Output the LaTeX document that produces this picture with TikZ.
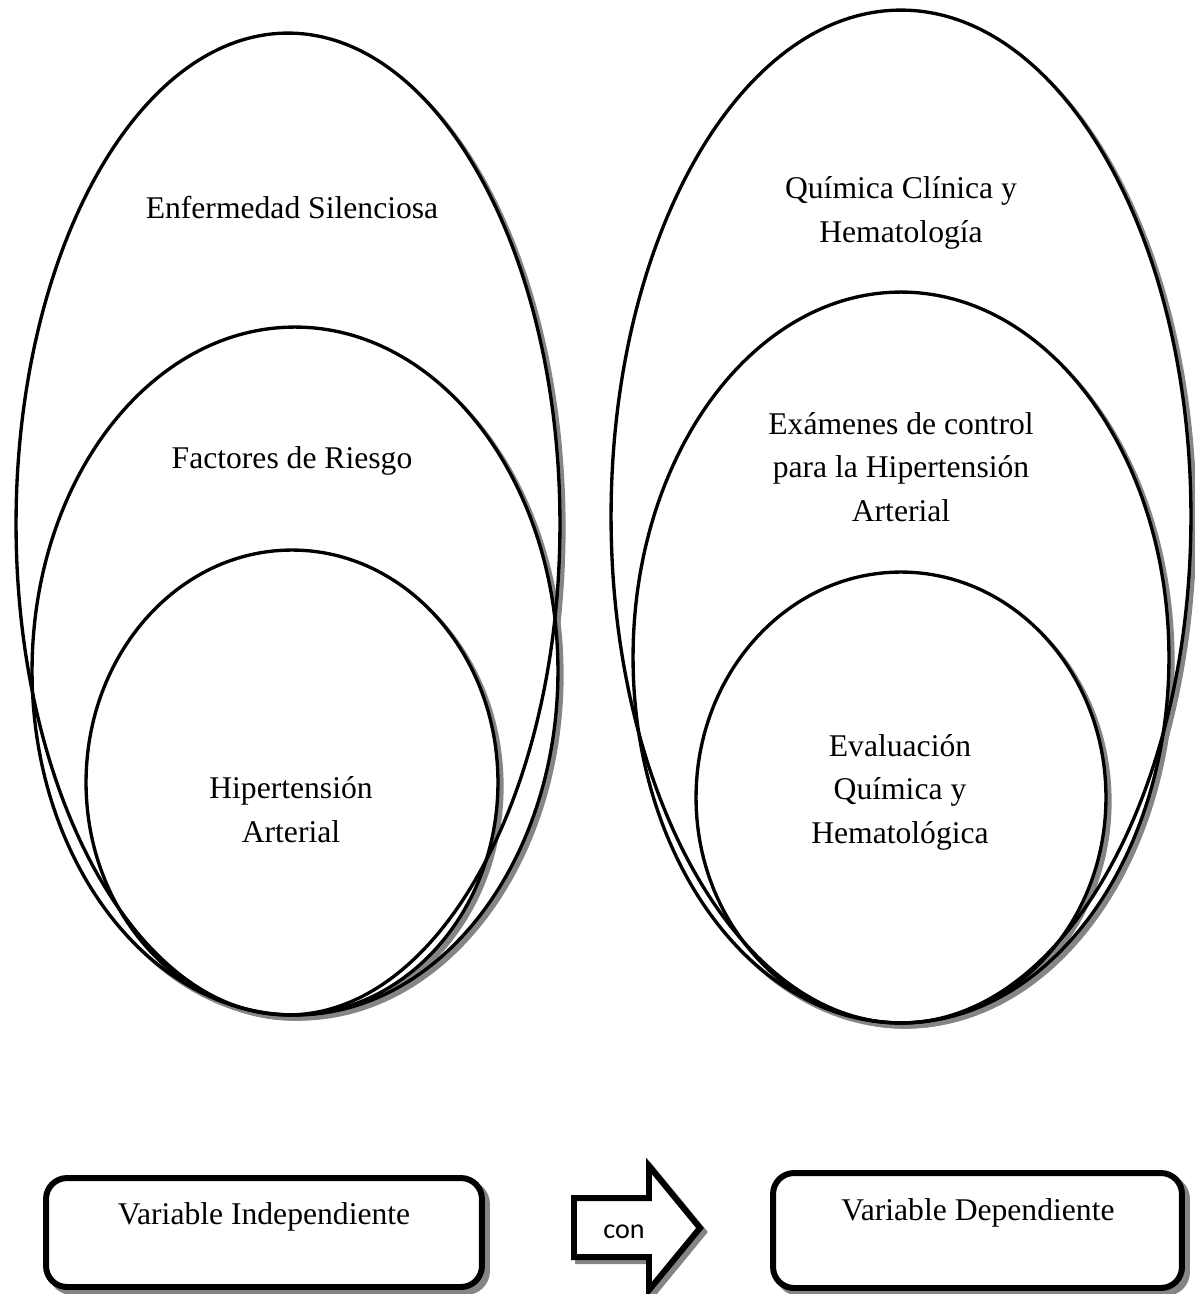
\documentclass[tikz,border=0pt]{standalone}
\usepackage{fontspec}
\setmainfont{Liberation Serif}
\newfontfamily\confont{Carlito}
\usetikzlibrary{shapes.geometric}

\begin{document}
\begin{tikzpicture}[x=0.02cm,y=-0.02cm]
\tikzset{oval/.style 2 args={draw,ellipse,inner sep=0pt,line width=1.9pt,
        minimum width=#1,minimum height=#2
    }
}
\tikzset{varbox/.style 2 args={draw,rectangle,rounded corners=0.42cm,inner sep=0pt,line width=3.4pt,
        minimum width=#1,minimum height=#2
    }
}
\tikzset{shade/.style={draw=black!48,fill=black!48}}
\tikzset{blank/.style={draw=none,fill=white}}
\tikzset{txt/.style={anchor=base,align=center,inner sep=0pt,font=\fontsize{18}{24.5}\selectfont}}

\useasboundingbox (0,0) rectangle (1194,1294);

% shadows, each one covered by the white inside of its own oval
\node[oval={10.88cm}{19.64cm},shade] (silenciosash) at (292,528) {};
\node[oval={10.88cm}{19.64cm},blank] (silenciosabg) at (288,524) {};
\node[oval={10.52cm}{13.76cm},shade] (riesgosh) at (299,675) {};
\node[oval={10.52cm}{13.76cm},blank] (riesgobg) at (295,671) {};
\node[oval={8.24cm}{9.3cm},shade] (htash) at (296,786.5) {};
\node[oval={8.24cm}{9.3cm},blank] (htabg) at (292,782.5) {};

\node[oval={11.6cm}{20.26cm},shade] (clinicash) at (905,520.5) {};
\node[oval={11.6cm}{20.26cm},blank] (clinicabg) at (901,516.5) {};
\node[oval={10.72cm}{14.62cm},shade] (examenessh) at (905,661.5) {};
\node[oval={10.72cm}{14.62cm},blank] (examenesbg) at (901,657.5) {};
\node[oval={8.2cm}{9.02cm},shade] (evaluacionsh) at (905,801.5) {};
\node[oval={8.2cm}{9.02cm},blank] (evaluacionbg) at (901,797.5) {};

\node[oval={10.88cm}{19.64cm}] (silenciosa) at (288,524) {};
\node[oval={10.52cm}{13.76cm}] (riesgo) at (295,671) {};
\node[oval={8.24cm}{9.3cm}] (hta) at (292,782.5) {};

\node[oval={11.6cm}{20.26cm}] (clinica) at (901,516.5) {};
\node[oval={10.72cm}{14.62cm}] (examenes) at (901,657.5) {};
\node[oval={8.2cm}{9.02cm}] (evaluacion) at (901,797.5) {};

\node[txt] (silenciosatxt) at (292,218) {Enfermedad Silenciosa};
\node[txt] (riesgotxt) at (292,468) {Factores de Riesgo};
\node[txt] (htatxt) at (291,842) {Hipertensión\\Arterial};
\node[txt] (clinicatxt) at (901,242) {Química Clínica y\\Hematología};
\node[txt] (examenestxt) at (901,521) {Exámenes de control\\para la Hipertensión\\Arterial};
\node[txt] (evaluaciontxt) at (900,843) {Evaluación\\Química y\\Hematológica};

\node[varbox={8.72cm}{2.18cm},shade] (indepsh) at (269,1237.5) {};
\node[varbox={8.72cm}{2.18cm},fill=white] (indep) at (264,1232.5) {};
\node[txt] (indeptxt) at (264,1224) {Variable Independiente};
\node[varbox={8.18cm}{2.3cm},shade] (depsh) at (982.5,1235.5) {};
\node[varbox={8.18cm}{2.3cm},fill=white] (dep) at (977.5,1230.5) {};
\node[txt] (deptxt) at (978,1220) {Variable Dependiente};

\draw[line width=3.4pt,shade,shift={(4,4)}]
    (574,1198) -- (649,1198) -- (649,1166) -- (700,1228) -- (649,1290) -- (649,1257) -- (574,1257) -- cycle;
\draw[line width=3.4pt,fill=white]
    (574,1198) -- (649,1198) -- (649,1166) -- (700,1228) -- (649,1290) -- (649,1257) -- (574,1257) -- cycle;
\node[anchor=base,inner sep=0pt,font=\confont\fontsize{16}{19}\selectfont] (con) at (624,1238) {con};
\end{tikzpicture}
\end{document}
